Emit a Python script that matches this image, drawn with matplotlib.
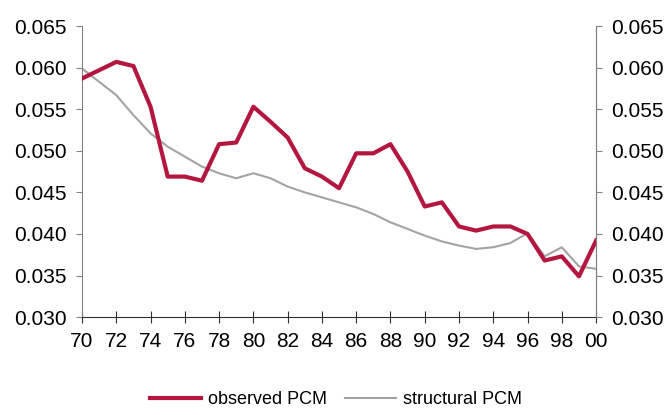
import numpy as np
import matplotlib.pyplot as plt

years = list(range(1970, 2001))
tick_labels = ["70", "72", "74", "76", "78", "80", "82", "84", "86", "88",
               "90", "92", "94", "96", "98", "00"]

observed = [0.0587, 0.0597, 0.0607, 0.0602, 0.0553, 0.0469, 0.0469, 0.0464,
            0.0508, 0.0510, 0.0553, 0.0535, 0.0516, 0.0479, 0.0469, 0.0455,
            0.0497, 0.0497, 0.0508, 0.0475, 0.0433, 0.0438, 0.0409, 0.0404,
            0.0409, 0.0409, 0.0400, 0.0368, 0.0373, 0.0349, 0.0392]
structural = [0.0599, 0.0583, 0.0567, 0.0543, 0.0521, 0.0505, 0.0493, 0.0481,
              0.0473, 0.0467, 0.0473, 0.0467, 0.0457, 0.0450, 0.0444, 0.0438,
              0.0432, 0.0424, 0.0414, 0.0406, 0.0398, 0.0391, 0.0386, 0.0382,
              0.0384, 0.0389, 0.0401, 0.0373, 0.0384, 0.0361, 0.0358]

plt.rcParams['font.family'] = ['Liberation Sans', 'DejaVu Sans']

fig = plt.figure(figsize=(6.69, 4.15), dpi=100)
ax = fig.add_axes([0.1226, 0.236, 0.7684, 0.701])

red = '#B3163F'
grey = '#A3A3A3'
ax.plot(years, observed, color=red, lw=3, label='observed PCM', zorder=3)
ax.plot(years, structural, color=grey, lw=1.5, label='structural PCM', zorder=2)

ax.set_xlim(1970, 2000)
ax.set_ylim(0.030, 0.065)
yt = np.arange(0.030, 0.0651, 0.005)
ax.set_yticks(yt)
ax.set_yticklabels([f"{v:.3f}" for v in yt])
ax.set_xticks(range(1970, 2001, 2))
ax.set_xticklabels(tick_labels)

ax2 = ax.twinx()
ax2.set_ylim(0.030, 0.065)
ax2.set_yticks(yt)
ax2.set_yticklabels([f"{v:.3f}" for v in yt])

for a in (ax, ax2):
    a.spines['top'].set_visible(False)
    a.spines['left'].set_color('#808080')
    a.spines['right'].set_color('#808080')
    a.spines['bottom'].set_color('#303030')
    a.tick_params(axis='y', labelsize=15, length=4, color='#808080', pad=7,
                  labelcolor='black')
ax2.spines['left'].set_visible(False)
ax2.spines['bottom'].set_visible(False)
ax.tick_params(axis='x', labelsize=15, direction='inout', length=8,
               color='#303030', pad=7)

ax.legend(loc='upper center', bbox_to_anchor=(0.494, -0.2), ncol=2,
          frameon=False, fontsize=13, handlelength=2.8, columnspacing=1.0,
          handletextpad=0.4)

fig.savefig('out.png', dpi=100)
